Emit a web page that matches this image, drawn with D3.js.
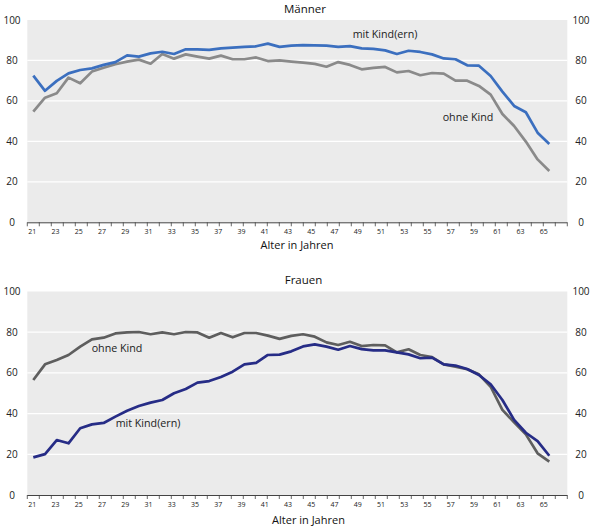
<!DOCTYPE html>
<html>
<head>
<meta charset="utf-8">
<script src="https://cdn.jsdelivr.net/npm/d3@7"></script>
<style>
  html, body { margin: 0; padding: 0; background: #fff; }
  svg { display: block; font-family: "Open Sans", "Noto Sans", sans-serif; }
</style>
</head>
<body>
<svg id="chart" width="592" height="528"></svg>
<script>
// ---- data ----
const ages = [21,22,23,24,25,26,27,28,29,30,31,32,33,34,35,36,37,38,39,40,41,42,43,44,45,46,47,48,49,50,51,52,53,54,55,56,57,58,59,60,61,62,63,64,65];
const tickLabels = [21,23,25,27,29,31,33,35,37,39,41,43,45,47,49,51,53,55,57,59,61,63,65];
const yTicks = [0,20,40,60,80,100];

const maennerMitKind = [72.5,65,69.9,73.6,75.3,76.1,77.8,79.2,82.5,81.9,83.5,84.3,83.2,85.5,85.5,85.2,86,86.3,86.7,87,88.3,86.7,87.3,87.6,87.5,87.3,86.7,87.1,86,85.7,85,83.2,84.8,84.2,83,81,80.6,77.6,77.4,72.3,64.6,57.5,54.4,44.3,38.7];
const maennerOhneKind = [54.7,61.6,63.8,71.5,68.7,74.5,76.4,78.1,79.4,80.4,78.4,83.2,80.9,83,81.9,80.9,82.4,80.6,80.6,81.5,79.7,80,79.4,78.9,78.3,76.9,79.2,77.8,75.6,76.3,76.8,74.1,74.8,72.7,73.8,73.5,70,70,67.4,63.1,53.5,47.6,39.9,31.1,25.4];
const frauenMitKind = [18.5,20.1,27,25.4,32.8,34.7,35.4,38.5,41.4,43.7,45.4,46.7,50,52.1,55.2,56,58,60.6,64.2,64.9,68.8,69,70.6,73,74,72.9,71.4,73.2,71.7,71.1,71.1,70.1,69.1,67.2,67.5,64.2,63.6,61.9,59,54.4,46.7,36.9,30.6,26.5,19.3];
const frauenOhneKind = [56.5,64.2,66.3,68.8,72.9,76.5,77.3,79.4,79.9,80.1,79,79.9,79,80.1,79.9,77.3,79.6,77.5,79.6,79.6,78.3,76.7,78.2,79,77.8,75,73.7,75.3,73.2,73.7,73.5,70.1,71.6,68.8,67.8,64.2,63.1,61.8,59.3,53.2,41.8,35.7,29.8,20.5,16.4];

const panels = [
  {
    title: "Männer", titleX: 305, titleY: 8.5,
    top: 20, bottom: 222.3,
    axisTitleX: 297, axisTitleY: 245,
    series: [
      { values: maennerOhneKind, color: "#8a8a8a", label: "ohne Kind", lx: 468, ly: 117 },
      { values: maennerMitKind, color: "#3b6fbf", label: "mit Kind(ern)", lx: 385, ly: 34 }
    ]
  },
  {
    title: "Frauen", titleX: 303.5, titleY: 280,
    top: 291.5, bottom: 495,
    axisTitleX: 308.5, axisTitleY: 520,
    series: [
      { values: frauenOhneKind, color: "#5e5e5e", label: "ohne Kind", lx: 117, ly: 348 },
      { values: frauenMitKind, color: "#262c86", label: "mit Kind(ern)", lx: 148, ly: 423 }
    ]
  }
];

// ---- drawing ----
const svg = d3.select("#chart");
const left = 27.3, right = 567.3;

const xLine = d3.scaleLinear().domain([ages[0], ages[ages.length - 1]]).range([33.3, 549.3]);
const xLabel = d3.scaleLinear().domain([tickLabels[0], tickLabels[tickLabels.length - 1]]).range([32.3, 543.7]);
const xBand = d3.scaleBand().domain(ages).range([left, right]).padding(0);

panels.forEach(p => {
  const g = svg.append("g");
  const y = d3.scaleLinear().domain([0, 100]).range([p.bottom, p.top]);

  g.append("rect")
    .attr("x", left).attr("y", y(100))
    .attr("width", right - left).attr("height", y(0) - y(100))
    .attr("fill", "#ebebeb");

  g.selectAll("line.grid").data(yTicks.filter(t => t > 0 && t < 100)).join("line")
    .attr("class", "grid")
    .attr("x1", left).attr("x2", right)
    .attr("y1", d => y(d)).attr("y2", d => y(d))
    .attr("stroke", "#fff").attr("stroke-width", 1.2);

  // y labels left & right
  g.selectAll("text.yl").data(yTicks).join("text")
    .attr("class", "yl")
    .attr("x", 12).attr("y", d => y(d)).attr("dy", "0.35em")
    .attr("text-anchor", "middle").attr("font-size", 10).attr("fill", "#222")
    .text(d => d);
  g.selectAll("text.yr").data(yTicks).join("text")
    .attr("class", "yr")
    .attr("x", 581).attr("y", d => y(d)).attr("dy", "0.35em")
    .attr("text-anchor", "middle").attr("font-size", 10).attr("fill", "#222")
    .text(d => d);

  // x axis line and ticks
  g.append("line")
    .attr("x1", left).attr("x2", right)
    .attr("y1", y(0) + 0.5).attr("y2", y(0) + 0.5)
    .attr("stroke", "#444").attr("stroke-width", 1);
  const tickPos = ages.map(a => xBand(a)).concat([right]);
  g.selectAll("line.tk").data(tickPos).join("line")
    .attr("class", "tk")
    .attr("x1", d => d).attr("x2", d => d)
    .attr("y1", y(0)).attr("y2", y(0) + 4)
    .attr("stroke", "#444").attr("stroke-width", 0.8);

  g.selectAll("text.xl").data(tickLabels).join("text")
    .attr("class", "xl")
    .attr("x", d => xLabel(d)).attr("y", y(0) + 9.5).attr("dy", "0.35em")
    .attr("text-anchor", "middle").attr("font-size", 7).attr("fill", "#222")
    .text(d => d);

  // lines
  const line = d3.line().x((d, i) => xLine(ages[i])).y(d => y(d));
  p.series.forEach(s => {
    g.append("path")
      .datum(s.values)
      .attr("d", line)
      .attr("fill", "none")
      .attr("stroke", s.color)
      .attr("stroke-width", 2.7)
      .attr("stroke-linejoin", "round");
    g.append("text")
      .attr("x", s.lx).attr("y", s.ly).attr("dy", "0.35em")
      .attr("text-anchor", "middle").attr("font-size", 10.7).attr("fill", "#222")
      .text(s.label);
  });

  g.append("text")
    .attr("x", p.titleX).attr("y", p.titleY).attr("dy", "0.35em")
    .attr("text-anchor", "middle").attr("font-size", 11.5).attr("fill", "#111")
    .text(p.title);
  g.append("text")
    .attr("x", p.axisTitleX).attr("y", p.axisTitleY).attr("dy", "0.35em")
    .attr("text-anchor", "middle").attr("font-size", 11).attr("fill", "#111")
    .text("Alter in Jahren");
});
</script>
</body>
</html>
